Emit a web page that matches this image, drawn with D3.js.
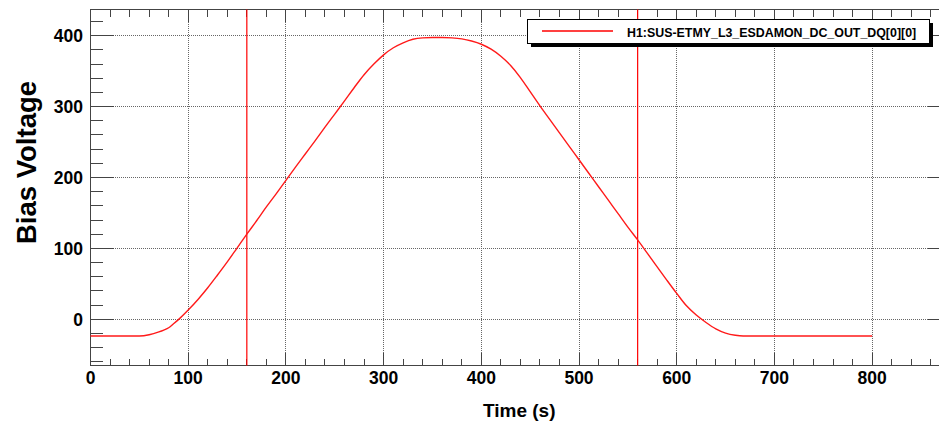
<!DOCTYPE html>
<html>
<head>
<meta charset="utf-8">
<script src="https://cdn.jsdelivr.net/npm/d3@7"></script>
<style>
  html, body { margin: 0; padding: 0; background: #fff; }
  svg { display: block; }
  text { font-family: "Liberation Sans", Arial, Helvetica, sans-serif; font-weight: bold; fill: #000; }
</style>
</head>
<body>
<svg id="chart" width="939" height="423"></svg>
<script>
// ---- data ----
const seriesName = "H1:SUS-ETMY_L3_ESDAMON_DC_OUT_DQ[0][0]";
const times = [0, 50, 60, 70, 75, 80, 85, 90, 100, 110, 120, 130, 140, 150, 160, 170, 180, 190, 200, 210, 220, 230, 240, 250, 260, 270, 280, 290, 300, 310, 320, 330, 340, 350, 360, 370, 380, 390, 400, 410, 420, 430, 440, 450, 460, 470, 480, 490, 500, 510, 520, 530, 540, 550, 560, 570, 580, 590, 600, 610, 620, 630, 640, 650, 660, 668, 700, 800];
const voltages = [-23.5, -23.5, -21.8, -17.8, -15.2, -12, -6.4, -0.5, 13, 28, 44.5, 62.5, 81, 100.5, 120, 139, 158.5, 177, 196, 215, 233.5, 252, 271, 289.5, 308, 327, 345, 360, 373, 383, 390, 395, 397, 397.5, 397.5, 397, 395.5, 392.5, 388, 381, 371, 358, 341, 321, 301, 282, 263, 244, 225, 206, 187, 168, 149, 130, 112, 93, 74, 55, 36.5, 19, 6, -4.5, -13.5, -19.5, -22.5, -23.5, -23.5, -23.5];
const markerTimes = [160, 560];
const xMajorTicks = [0, 100, 200, 300, 400, 500, 600, 700, 800];
const yMajorTicks = [0, 100, 200, 300, 400];
const xLabel = "Time (s)";
const yLabel = "Bias Voltage";

// ---- layout ----
const svg = d3.select("#chart");
const x = d3.scaleLinear().domain([0, 880]).range([90.5, 950.3]);
const y = d3.scaleLinear().domain([-64.5, 437.7]).range([365, 9]);
const X0 = 90.5, X1 = 950.5, Y0 = 365.5, Y1 = 9.5;
const px = v => Math.round(x(v) - 0.5) + 0.5;
const py = v => Math.round(y(v) - 0.5) + 0.5;

const xMinor = d3.range(0, 881, 20).filter(v => v % 100 !== 0);
const yMinor = d3.range(-60, 421, 20).filter(v => v % 100 !== 0);

const frameColor = "#444";
const gridColor = "#666";

// grid
const grid = svg.append("g").attr("shape-rendering", "crispEdges");
xMajorTicks.filter(v => v > 0).forEach(v => {
  grid.append("line").attr("x1", px(v)).attr("x2", px(v)).attr("y1", Y1).attr("y2", Y0)
    .attr("stroke", gridColor).attr("stroke-width", 1).attr("stroke-dasharray", "1,1");
});
yMajorTicks.forEach(v => {
  grid.append("line").attr("x1", X0).attr("x2", X1).attr("y1", py(v)).attr("y2", py(v))
    .attr("stroke", gridColor).attr("stroke-width", 1).attr("stroke-dasharray", "1,1");
});

// ticks
const ticks = svg.append("g").attr("stroke", frameColor).attr("stroke-width", 1).attr("shape-rendering", "crispEdges");
function tick(x1, y1, x2, y2) { ticks.append("line").attr("x1", x1).attr("y1", y1).attr("x2", x2).attr("y2", y2); }
xMajorTicks.forEach(v => { tick(px(v), Y0, px(v), Y0 - 13); tick(px(v), Y1, px(v), Y1 + 12); });
xMinor.forEach(v => { tick(px(v), Y0, px(v), Y0 - 7); tick(px(v), Y1, px(v), Y1 + 7); });
yMajorTicks.forEach(v => { tick(X0, py(v), X0 + 23, py(v)); tick(X1, py(v), X1 - 23, py(v)); });
yMinor.forEach(v => { tick(X0, py(v), X0 + 12, py(v)); tick(X1, py(v), X1 - 12, py(v)); });

// frame
svg.append("rect").attr("x", X0).attr("y", Y1).attr("width", X1 - X0).attr("height", Y0 - Y1)
  .attr("fill", "none").attr("stroke", frameColor).attr("stroke-width", 1).attr("shape-rendering", "crispEdges");

// marker lines
markerTimes.forEach(t => {
  svg.append("line").attr("x1", x(t)).attr("x2", x(t)).attr("y1", Y1).attr("y2", Y0)
    .attr("stroke", "#ff0000").attr("stroke-width", 1.2);
});

// series
const pts = times.map((t, i) => [t, voltages[i]]);
svg.append("path").datum(pts)
  .attr("d", d3.line().x(d => x(d[0])).y(d => y(d[1])).curve(d3.curveMonotoneX))
  .attr("fill", "none").attr("stroke", "#ff1a1a").attr("stroke-width", 1.4);

// tick labels
xMajorTicks.forEach(v => {
  svg.append("text").attr("x", x(v)).attr("y", 384).attr("text-anchor", "middle")
    .attr("font-size", "17.5px").text(v);
});
yMajorTicks.forEach(v => {
  svg.append("text").attr("x", 83).attr("y", y(v)).attr("dy", "0.36em").attr("text-anchor", "end")
    .attr("font-size", "17.5px").text(v);
});

// axis titles
svg.append("text").attr("x", 483).attr("y", 417).attr("font-size", "19px").text(xLabel);
svg.append("text").attr("transform", "translate(36,162.5) rotate(-90)").attr("text-anchor", "middle")
  .attr("font-size", "27.5px").text(yLabel);

// legend
const lg = svg.append("g");
lg.append("rect").attr("x", 531).attr("y", 23).attr("width", 402).attr("height", 24).attr("fill", "#000");
lg.append("rect").attr("x", 527.5).attr("y", 19.5).attr("width", 402).attr("height", 24)
  .attr("fill", "#fff").attr("stroke", "#000").attr("stroke-width", 1);
lg.append("line").attr("x1", 542).attr("x2", 613).attr("y1", 31).attr("y2", 31)
  .attr("stroke", "#ff0000").attr("stroke-width", 1.3);
lg.append("text").attr("x", 627).attr("y", 36.5).attr("font-size", "12.4px").text(seriesName);
</script>
</body>
</html>
